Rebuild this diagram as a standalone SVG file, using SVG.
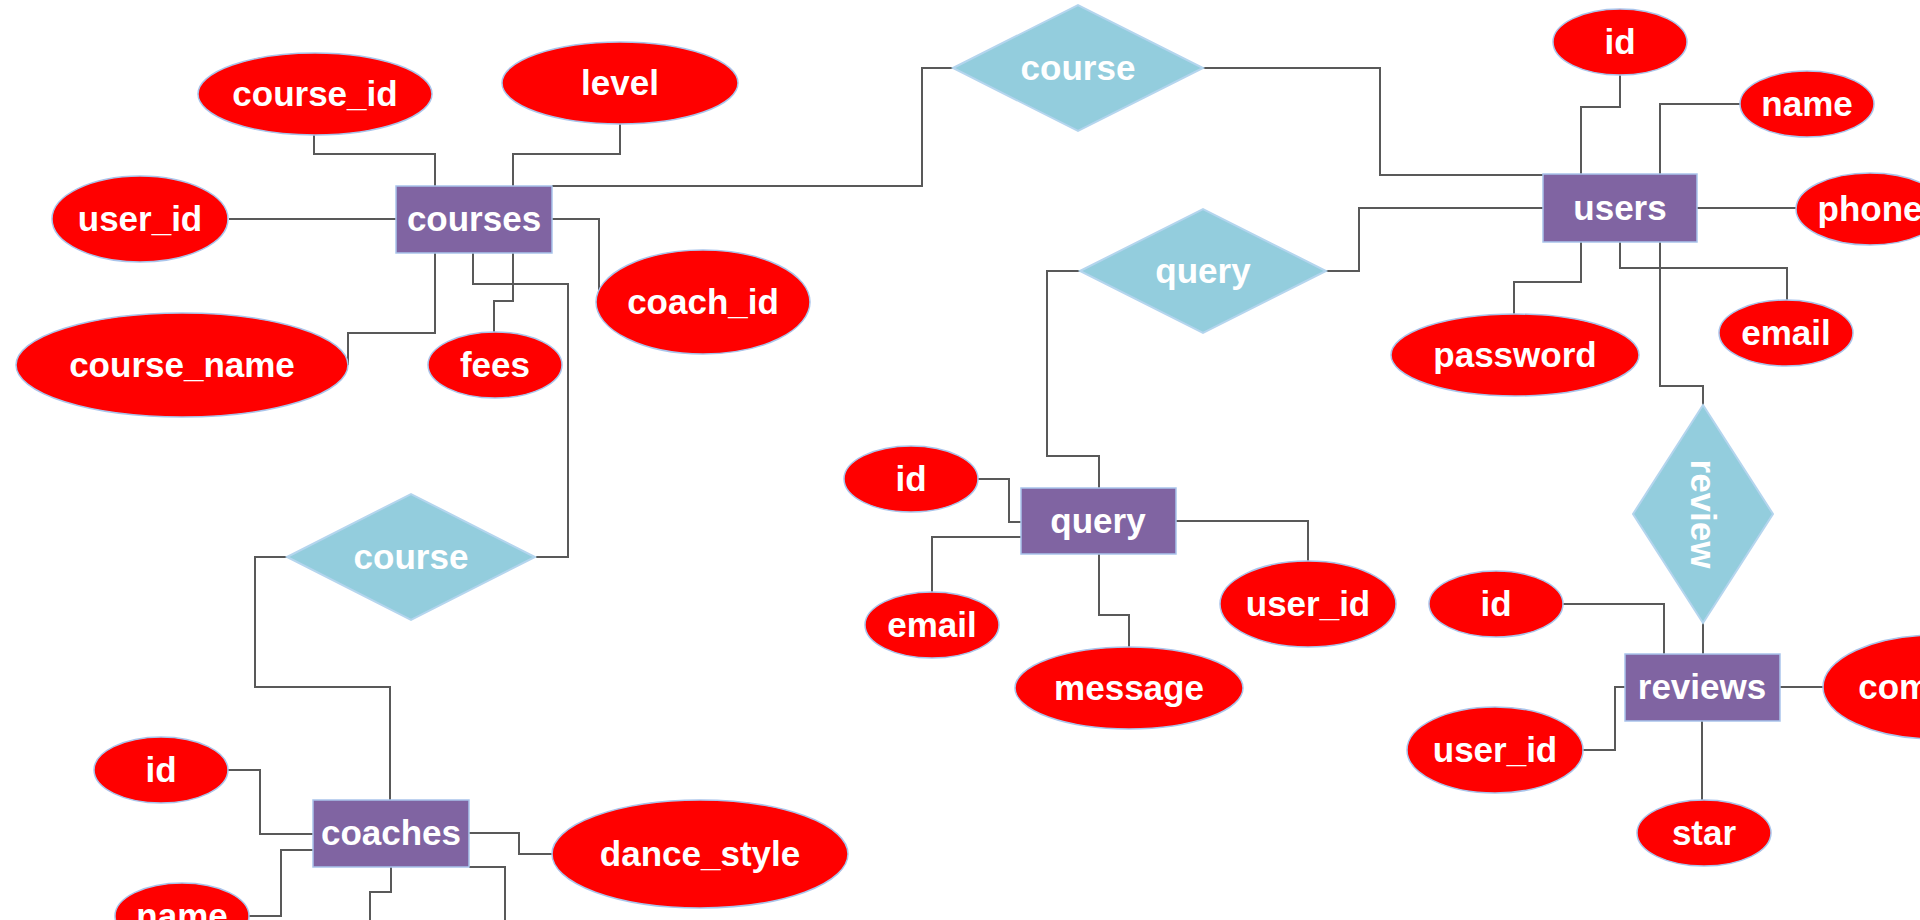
<svg xmlns="http://www.w3.org/2000/svg" width="1920" height="920" viewBox="0 0 1920 920">
<style>
.conn path{fill:none;stroke:#595959;stroke-width:2}
.attr ellipse{fill:#FF0000;stroke:#A9C4EB;stroke-width:1.5}
.ent rect{fill:#8064A2;stroke:#A9C4EB;stroke-width:1.5}
.rel polygon{fill:#93CDDD;stroke:#B4D5EE;stroke-width:2}
text{font-family:"Liberation Sans",Arial,sans-serif;font-weight:bold;font-size:35px;fill:#FFFFFF;text-anchor:middle}
</style>
<rect width="1920" height="920" fill="#FFFFFF"/>
<g id="connectors" class="conn">
<path d="M314,135 V154 H435 V186"/>
<path d="M620,124 V154 H513 V186"/>
<path d="M229,219 H396"/>
<path d="M552,186 H922 V68 H953"/>
<path d="M552,219 H599 V302 H596"/>
<path d="M435,253 V333 H348 V365"/>
<path d="M473,253 V284 H568 V557 H536"/>
<path d="M513,253 V301 H494 V332"/>
<path d="M1203,68 H1380 V175 H1543"/>
<path d="M1620,75 V107 H1581 V174"/>
<path d="M1740,104 H1660 V174"/>
<path d="M1697,208 H1796"/>
<path d="M1543,208 H1359 V271 H1326"/>
<path d="M1581,242 V282 H1514 V314"/>
<path d="M1620,242 V268 H1787 V300"/>
<path d="M1660,242 V386 H1703 V405"/>
<path d="M1080,271 H1047 V456 H1099 V488"/>
<path d="M978,479 H1009 V522 H1021"/>
<path d="M1021,537 H932 V592"/>
<path d="M1099,554 V615 H1129 V647"/>
<path d="M1176,521 H1308 V561"/>
<path d="M1703,623 V654"/>
<path d="M1562,604 H1664 V654"/>
<path d="M1583,750 H1615 V687 H1625"/>
<path d="M1780,687 H1823"/>
<path d="M1702,721 V800"/>
<path d="M287,557 H255 V687 H390 V800"/>
<path d="M228,770 H260 V834 H313"/>
<path d="M469,833 H519 V854 H552"/>
<path d="M313,850 H281 V916 H249"/>
<path d="M391,867 V892 H370 V920"/>
<path d="M469,867 H505 V920"/>
</g>
<g id="rel-course-top" class="rel"><polygon points="953,68 1078,5 1203,68 1078,131"/><text x="1078" y="80">course</text></g>
<g id="rel-query" class="rel"><polygon points="1080,271 1203,209 1326,271 1203,333"/><text x="1203" y="283">query</text></g>
<g id="rel-review" class="rel"><polygon points="1703,405 1773,514 1703,623 1633,514"/><text x="1703" y="514" transform="rotate(90 1703 514)" dy="12">review</text></g>
<g id="rel-course-bottom" class="rel"><polygon points="287,557 411,494 535,557 411,620"/><text x="411" y="569">course</text></g>
<g id="ent-courses" class="ent"><rect x="396" y="186" width="156" height="67"/><text x="474" y="231">courses</text></g>
<g id="ent-users" class="ent"><rect x="1543" y="174" width="154" height="68"/><text x="1620" y="220">users</text></g>
<g id="ent-query" class="ent"><rect x="1021" y="488" width="155" height="66"/><text x="1098" y="533">query</text></g>
<g id="ent-reviews" class="ent"><rect x="1625" y="654" width="155" height="67"/><text x="1702" y="699">reviews</text></g>
<g id="ent-coaches" class="ent"><rect x="313" y="800" width="156" height="67"/><text x="391" y="845">coaches</text></g>
<g id="attr-courses-course_id" class="attr"><ellipse cx="315" cy="94" rx="117" ry="41"/><text x="315" y="106">course_id</text></g>
<g id="attr-courses-level" class="attr"><ellipse cx="620" cy="83" rx="118" ry="41"/><text x="620" y="95">level</text></g>
<g id="attr-courses-user_id" class="attr"><ellipse cx="140" cy="219" rx="88" ry="43"/><text x="140" y="231">user_id</text></g>
<g id="attr-courses-coach_id" class="attr"><ellipse cx="703" cy="302" rx="107" ry="52"/><text x="703" y="314">coach_id</text></g>
<g id="attr-courses-course_name" class="attr"><ellipse cx="182" cy="365" rx="166" ry="52"/><text x="182" y="377">course_name</text></g>
<g id="attr-courses-fees" class="attr"><ellipse cx="495" cy="365" rx="67" ry="33"/><text x="495" y="377">fees</text></g>
<g id="attr-users-id" class="attr"><ellipse cx="1620" cy="42" rx="67" ry="33"/><text x="1620" y="54">id</text></g>
<g id="attr-users-name" class="attr"><ellipse cx="1807" cy="104" rx="67" ry="33"/><text x="1807" y="116">name</text></g>
<g id="attr-users-phone" class="attr"><ellipse cx="1870" cy="209" rx="74" ry="36"/><text x="1870" y="221">phone</text></g>
<g id="attr-users-password" class="attr"><ellipse cx="1515" cy="355" rx="124" ry="41"/><text x="1515" y="367">password</text></g>
<g id="attr-users-email" class="attr"><ellipse cx="1786" cy="333" rx="67" ry="33"/><text x="1786" y="345">email</text></g>
<g id="attr-query-id" class="attr"><ellipse cx="911" cy="479" rx="67" ry="33"/><text x="911" y="491">id</text></g>
<g id="attr-query-email" class="attr"><ellipse cx="932" cy="625" rx="67" ry="33"/><text x="932" y="637">email</text></g>
<g id="attr-query-message" class="attr"><ellipse cx="1129" cy="688" rx="114" ry="41"/><text x="1129" y="700">message</text></g>
<g id="attr-query-user_id" class="attr"><ellipse cx="1308" cy="604" rx="88" ry="43"/><text x="1308" y="616">user_id</text></g>
<g id="attr-reviews-id" class="attr"><ellipse cx="1496" cy="604" rx="67" ry="33"/><text x="1496" y="616">id</text></g>
<g id="attr-reviews-user_id" class="attr"><ellipse cx="1495" cy="750" rx="88" ry="43"/><text x="1495" y="762">user_id</text></g>
<g id="attr-reviews-comment" class="attr"><ellipse cx="1936" cy="687" rx="113" ry="52"/><text x="1936" y="699">comment</text></g>
<g id="attr-reviews-star" class="attr"><ellipse cx="1704" cy="833" rx="67" ry="33"/><text x="1704" y="845">star</text></g>
<g id="attr-coaches-id" class="attr"><ellipse cx="161" cy="770" rx="67" ry="33"/><text x="161" y="782">id</text></g>
<g id="attr-coaches-dance_style" class="attr"><ellipse cx="700" cy="854" rx="148" ry="54"/><text x="700" y="866">dance_style</text></g>
<g id="attr-coaches-name" class="attr"><ellipse cx="182" cy="916" rx="67" ry="33"/><text x="182" y="928">name</text></g>
</svg>
